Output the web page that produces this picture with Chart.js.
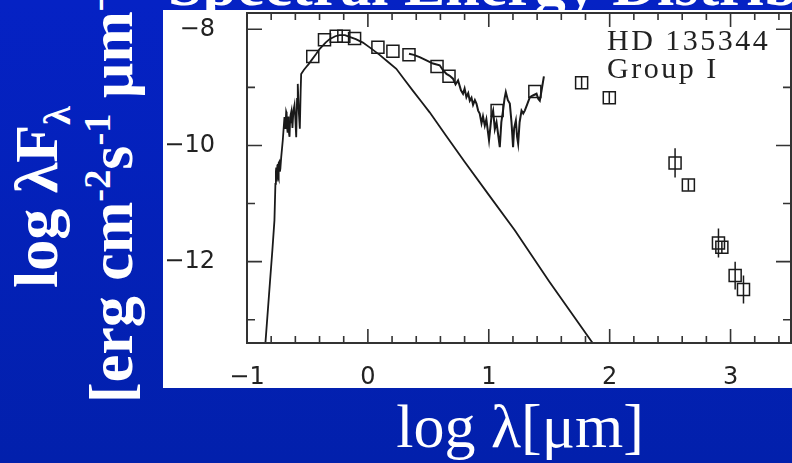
<!DOCTYPE html>
<html>
<head>
<meta charset="utf-8">
<script src="https://cdn.jsdelivr.net/npm/chart.js@4/dist/chart.umd.min.js"></script>
<style>
    html, body { margin: 0; padding: 0; }
    body {
        width: 792px; height: 463px; overflow: hidden; position: relative;
        background: linear-gradient(#0522c4, #0220ac);
        font-family: 'Liberation Serif', serif;
        color: #fff;
    }
    #panel { position: absolute; left: 163px; top: 10px; width: 629px; height: 378px; background: #fff; }
    #panel canvas { display: block; }
    .title { position: absolute; left: 168px; top: -47px; font: bold 62px/62px 'Liberation Serif'; white-space: nowrap; }
    .ylab { position: absolute; transform-origin: 0 0; transform: rotate(-90deg); font: bold 62px/62px 'Liberation Serif'; white-space: nowrap; }
    .xlab { position: absolute; left: 520px; top: 395px; transform: translateX(-50%); font: 62px/62px 'Liberation Serif'; white-space: nowrap; }
    sub, sup { line-height: 0; font-size: 0.62em; }
</style>
</head>
<body>
<div class="title">Spectral Energy Distribution</div>
<div class="ylab" style="left:5px; top:288px;">log λF<sub>λ</sub></div>
<div class="ylab" style="left:80px; top:403px;">[erg cm<sup>-2</sup>s<sup>-1</sup> μm<sup>-1</sup>]</div>
<div id="panel"><canvas id="sedChart" width="629" height="378"></canvas></div>
<div class="xlab">log λ[μm]</div>

<script>
// 광구 모델 (log λ, log λFλ)
const photLogLam = [-0.848, -0.810, -0.790, -0.773, -0.765, -0.761, -0.758, -0.755, -0.752, -0.749, -0.746, -0.743,
    -0.740, -0.736, -0.733, -0.728, -0.724, -0.717, -0.704, -0.690, -0.685, -0.680, -0.676, -0.672, -0.668, -0.664,
    -0.660, -0.656, -0.652, -0.648, -0.644, -0.640, -0.632, -0.624, -0.616, -0.607, -0.600, -0.593, -0.586, -0.580,
    -0.572, -0.563, -0.556, -0.552, -0.530, -0.510, -0.490, -0.469, -0.430, -0.400, -0.350, -0.317, -0.270, -0.235,
    -0.190, -0.152, -0.100, -0.041, 0.020, 0.097, 0.160, 0.235, 0.300, 0.373, 0.440, 0.511, 0.650, 0.800, 1.000,
    1.215, 1.500, 1.859];
const photLogFlux = [-13.41, -12.35, -11.80, -11.29, -10.66, -10.45, -10.38, -10.60, -10.62, -10.35, -10.32, -10.55,
    -10.58, -10.30, -10.28, -10.45, -10.40, -10.20, -9.91, -9.51, -9.70, -9.60, -9.42, -9.45, -9.70, -9.78,
    -9.55, -9.50, -9.80, -9.85, -9.60, -9.48, -9.40, -9.70, -9.40, -9.30, -9.55, -9.86, -9.20, -8.94,
    -9.40, -9.71, -9.05, -8.77, -8.70, -8.65, -8.60, -8.54, -8.43, -8.34, -8.23, -8.17, -8.12, -8.10,
    -8.10, -8.13, -8.17, -8.23, -8.32, -8.44, -8.55, -8.68, -8.86, -9.06, -9.24, -9.43, -9.84, -10.28, -10.85,
    -11.46, -12.34, -13.40];

// 적외선 분광 (관측 스펙트럼)
const specLogLam = [0.340, 0.380, 0.428, 0.480, 0.539, 0.594, 0.620, 0.650, 0.677, 0.704, 0.725, 0.746, 0.770,
    0.787, 0.800, 0.815, 0.830, 0.843, 0.857, 0.870, 0.885, 0.898, 0.912, 0.925, 0.940, 0.952, 0.967, 0.980,
    1.002, 1.022, 1.036, 1.050, 1.064, 1.080, 1.091, 1.104, 1.118, 1.130, 1.141, 1.158, 1.174, 1.188, 1.201,
    1.210, 1.224, 1.234, 1.243, 1.255, 1.271, 1.285, 1.298, 1.320, 1.340, 1.365, 1.395, 1.410, 1.422, 1.437, 1.456];
const specLogFlux = [-8.42, -8.44, -8.48, -8.53, -8.59, -8.62, -8.70, -8.77, -8.80, -8.85, -8.95, -8.88, -9.05,
    -9.11, -9.02, -9.17, -9.10, -9.23, -9.18, -9.30, -9.22, -9.28, -9.40, -9.45, -9.62, -9.50, -9.66, -9.55,
    -9.91, -9.51, -9.40, -9.72, -9.60, -9.85, -10.03, -9.60, -9.40, -9.20, -9.08, -9.22, -9.28, -9.60, -10.03,
    -9.70, -9.57, -9.85, -9.97, -9.60, -9.40, -9.45, -9.40, -9.28, -9.17, -9.14, -9.11, -9.20, -9.23, -9.05, -8.81];

// 측광 자료 (네모) + 오차
const obsLogLam = [-0.456, -0.359, -0.262, -0.199, -0.110, 0.083, 0.207, 0.340, 0.572, 0.671, 1.069, 1.381,
    1.768, 1.997, 2.541, 2.651, 2.900, 2.928, 3.038, 3.107];
const obsLogFlux = [-8.47, -8.18, -8.12, -8.12, -8.16, -8.31, -8.38, -8.44, -8.64, -8.81, -9.40, -9.07,
    -8.92, -9.18, -10.30, -10.68, -11.68, -11.75, -12.24, -12.48];
const obsErr = [0, 0, 0, 0, 0, 0, 0, 0, 0, 0, 0, 0, 0.1, 0.1, 0.25, 0.1, 0.25, 0.1, 0.24, 0.24];

const xTicks = [-1, 0, 1, 2, 3];
const yTicks = [-12, -10, -8];
const xMinorStep = 0.2;
const yMinorStep = 1;
const labelLines = ['HD 135344', 'Group I'];

const ink = '#1a1a1a';
const toXY = (xs, ys) => xs.map((v, i) => ({ x: v, y: ys[i] }));
const fmt = v => (v < 0 ? '\u2212' + Math.abs(v) : String(v));

// 테두리 + 안쪽 눈금 + 오차막대 + 라벨
const sedDecor = {
    id: 'sedDecor',
    afterDatasetsDraw(chart) {
        const { ctx, scales: { x, y } } = chart;
        ctx.save();
        ctx.strokeStyle = ink;
        ctx.lineWidth = 1.5;
        ctx.beginPath();
        obsLogLam.forEach((lam, i) => {
            if (!obsErr[i]) return;
            const px = x.getPixelForValue(lam);
            ctx.moveTo(px, y.getPixelForValue(obsLogFlux[i] + obsErr[i]));
            ctx.lineTo(px, y.getPixelForValue(obsLogFlux[i] - obsErr[i]));
        });
        ctx.stroke();
        ctx.restore();
    },
    afterDraw(chart) {
        const { ctx, chartArea: a, scales: { x, y } } = chart;
        ctx.save();
        ctx.strokeStyle = '#333';
        ctx.lineWidth = 2;
        ctx.strokeRect(a.left, a.top, a.right - a.left, a.bottom - a.top);

        ctx.lineWidth = 1.6;
        ctx.beginPath();
        for (let i = 0; ; i++) {
            const v = x.min + i * xMinorStep;
            if (v > x.max + 1e-6) break;
            const px = x.getPixelForValue(v);
            const len = Math.abs(v - Math.round(v)) < 1e-6 ? 14 : 7;
            ctx.moveTo(px, a.bottom); ctx.lineTo(px, a.bottom - len);
            ctx.moveTo(px, a.top); ctx.lineTo(px, a.top + len);
        }
        for (let v = Math.ceil(y.min); v <= y.max; v += yMinorStep) {
            const py = y.getPixelForValue(v);
            const len = v % 2 === 0 ? 15 : 8;
            ctx.moveTo(a.left, py); ctx.lineTo(a.left + len, py);
            ctx.moveTo(a.right, py); ctx.lineTo(a.right - len, py);
        }
        ctx.stroke();

        ctx.fillStyle = '#222';
        ctx.font = '30px "Liberation Serif"';
        ctx.letterSpacing = '2.5px';
        ctx.textBaseline = 'alphabetic';
        ctx.fillText(labelLines[0], a.right - 184, a.top + 37);
        ctx.fillText(labelLines[1], a.right - 184, a.top + 65);
        ctx.restore();
    }
};

const sedChart = new Chart(document.getElementById('sedChart'), {
    type: 'scatter',
    data: {
        datasets: [
            {
                data: toXY(photLogLam, photLogFlux),
                showLine: true, borderColor: ink, borderWidth: 1.8, pointRadius: 0, tension: 0
            },
            {
                data: toXY(specLogLam, specLogFlux),
                showLine: true, borderColor: ink, borderWidth: 2, pointRadius: 0, tension: 0
            },
            {
                data: toXY(obsLogLam, obsLogFlux),
                showLine: false, pointStyle: 'rect', pointRadius: 8.5,
                borderColor: ink, borderWidth: 1.5, backgroundColor: 'rgba(0,0,0,0)'
            }
        ]
    },
    options: {
        responsive: false,
        animation: false,
        events: [],
        layout: { autoPadding: false, padding: { top: 3, right: 1, left: 0, bottom: 0 } },
        plugins: { legend: { display: false }, tooltip: { enabled: false } },
        scales: {
            x: {
                type: 'linear', min: -1, max: 3.5,
                grid: { display: false }, border: { display: false },
                afterBuildTicks: s => { s.ticks = xTicks.map(v => ({ value: v })); },
                afterFit: s => { s.height = 45; s.paddingLeft = 0; s.paddingRight = 0; },
                ticks: {
                    padding: 12, color: '#222', maxRotation: 0, autoSkip: false,
                    font: { family: 'DejaVu Sans', size: 24 },
                    callback: fmt
                }
            },
            y: {
                type: 'linear', min: -13.4, max: -7.72,
                grid: { display: false }, border: { display: false },
                afterBuildTicks: s => { s.ticks = yTicks.map(v => ({ value: v })); },
                afterFit: s => { s.width = 84; s.paddingTop = 0; s.paddingBottom = 0; },
                ticks: {
                    padding: 24, color: '#222', autoSkip: false,
                    font: { family: 'DejaVu Sans', size: 24 },
                    callback: fmt
                }
            }
        }
    },
    plugins: [sedDecor]
});
</script>
</body>
</html>
